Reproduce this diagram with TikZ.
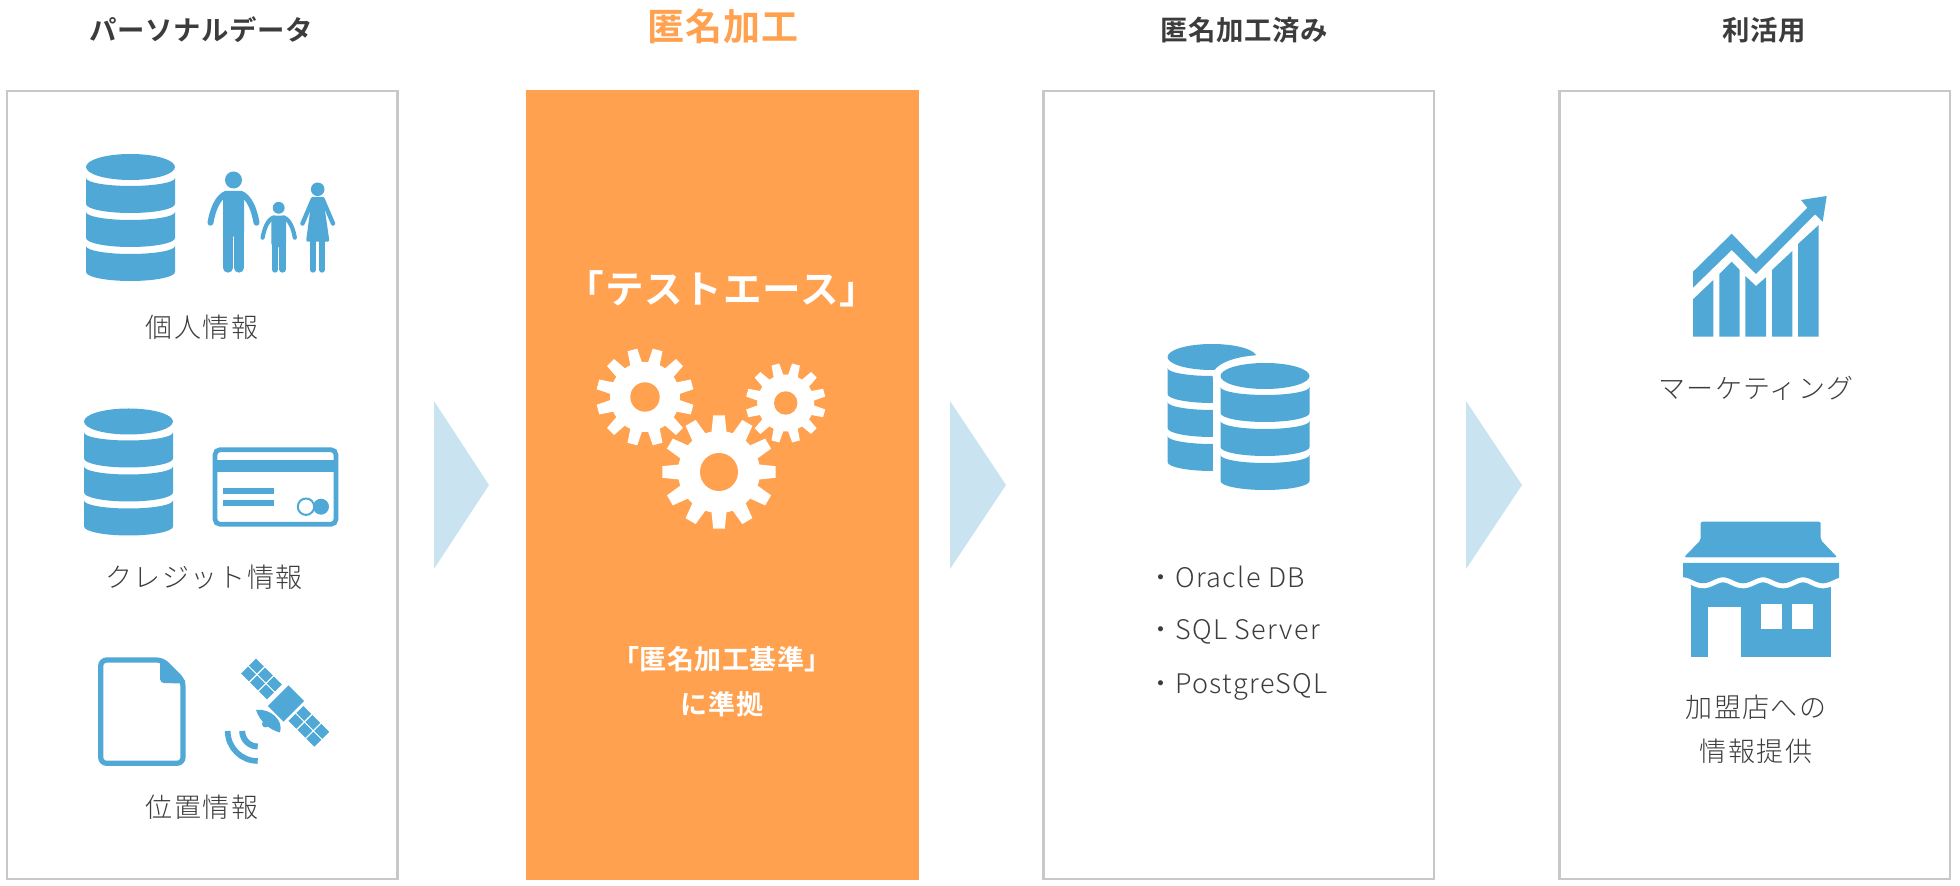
\documentclass[tikz,border=0pt]{standalone}
\usepackage{fontspec}
\usepackage{xcolor}
\usetikzlibrary{positioning}
\newfontfamily\jplight[LetterSpace=5]{Noto Sans CJK JP Light}
\newfontfamily\jpbold[LetterSpace=2]{Noto Sans CJK JP Bold}
\definecolor{iconblue}{HTML}{50A8D6}
\definecolor{stepblue}{HTML}{C9E3F1}
\definecolor{maskorange}{HTML}{FFA14F}
\definecolor{panelgray}{HTML}{C8C8C8}
\definecolor{inkgray}{HTML}{3C3C3C}
\begin{document}
\begin{tikzpicture}[x=0.5pt, y=-0.5pt,
    panel/.style={rectangle, draw=panelgray, line width=1.25pt, minimum width=195.25pt, minimum height=393.75pt, inner sep=0pt},
    title/.style={font=\jpbold\fontsize{13.7}{20}\selectfont, text=inkgray},
    label/.style={font=\jplight\fontsize{13.5}{22}\selectfont, text=inkgray, align=center},
    dblabel/.style={font=\jplight\fontsize{13.5}{20}\selectfont, text=inkgray, anchor=west},
    icon/.style={fill=iconblue},
    pics/dbstack/.style={code={
        \fill[icon] (0,0) circle[x radius=44.5, y radius=13];
        \foreach \layer in {0,34,68} {
            \fill[icon] (-44.5,11+\layer) arc[start angle=180, end angle=0, x radius=44.5, y radius=8]
                -- (44.5,37+\layer) arc[start angle=0, end angle=180, x radius=44.5, y radius=9] -- cycle;
        }
    }},
    pics/manfig/.style={code={
        \fill[icon] (0,-92.7) circle[radius=8.5];
        \fill[icon, rounded corners=2pt] (-10.5,-81.7) rectangle (10.5,-36);
        \draw[iconblue, line width=#1*4.75pt, line cap=round] (-5.5,-40) -- (-5.5,-4.75) (5.5,-40) -- (5.5,-4.75);
        \draw[iconblue, line width=#1*3pt, line cap=round] (-7,-79) .. controls (-16,-76) and (-21,-62) .. (-23,-50)
            (7,-79) .. controls (16,-76) and (21,-62) .. (23,-50);
    }},
    pics/gearwheel/.style args={#1/#2/#3/#4/#5/#6}{code={
        \fill[white] (0,0) circle[radius=#2];
        \foreach \ang in {0,30,...,330} {
            \fill[white, rotate=\ang+#6] (-#4,-#2+1) -- (-#5,-#1) -- (#5,-#1) -- (#4,-#2+1) -- cycle;
        }
        \fill[maskorange] (0,0) circle[radius=#3];
    }}]
        \useasboundingbox (0,0) rectangle (1960,886);
        \node (personal) [panel] at (202,485) {};
        \node (masking) [panel, right=63.85pt of personal, fill=maskorange, draw=maskorange] {};
        \node (masked) [panel, right=61.5pt of masking] {};
        \node (usage) [panel, right=61.6pt of masked] {};
        \node (personaltitle) [title] at (201,30) {パーソナルデータ};
        \node (maskingtitle) [title, font=\jpbold\fontsize{18.5}{24}\selectfont, text=maskorange] at (723,26) {匿名加工};
        \node (maskedtitle) [title] at (1244,30) {匿名加工済み};
        \node (usagetitle) [title] at (1764,30) {利活用};
        \fill[stepblue] (434,401) -- (489,485) -- (434,569) -- cycle;
        \fill[stepblue] (950,401) -- (1006,485) -- (950,569) -- cycle;
        \fill[stepblue] (1466,401) -- (1522,485) -- (1466,569) -- cycle;
        % personal data
        \pic at (130.5,167) {dbstack};
        \pic at (233.5,272.7) {manfig={1}};
        \pic[scale=0.7] at (278.7,272.7) {manfig={0.7}};
        \fill[icon] (317.7,189.3) circle[radius=6.8];
        \fill[icon, rounded corners=1pt] (312,197) -- (323,197) -- (329.5,241.7) -- (306,241.7) -- cycle;
        \draw[iconblue, line width=2.8pt, line cap=round] (313,272.7-2.8) -- (313,238) (322,272.7-2.8) -- (322,238);
        \draw[iconblue, line width=2.2pt, line cap=round] (313,199) -- (302.5,223.5) (322.5,199) -- (333,223.5);
        \node (personlabel) [label] at (202,327) {個人情報};
        \pic at (128.5,421.5) {dbstack};
        \draw[iconblue, line width=2.35pt, rounded corners=2.5pt] (215,449.7) rectangle (336,524.3);
        \fill[icon] (215,460) rectangle (336,472.3);
        \fill[icon] (223,488.3) rectangle (274.3,494.3);
        \fill[icon] (223,500) rectangle (274.3,506);
        \fill[icon] (321,506.7) circle[radius=8];
        \draw[iconblue, fill=white, line width=1pt] (306,506.7) circle[radius=8.2];
        \node (creditlabel) [label] at (204,577) {クレジット情報};
        \draw[iconblue, line width=2.6pt, rounded corners=3pt] (100.7,660) -- (162.5,660) -- (183,680.5) -- (183,763.3) -- (100.7,763.3) -- cycle;
        \fill[icon, rounded corners=2pt] (160,659) -- (164,659) -- (185,680) -- (185,683.5) -- (160,683) -- cycle;
        \begin{scope}[shift={(286,703.5)}, rotate=-45]
            \fill[icon] (-11,-14.5) rectangle (11,14.5);
            \foreach \cell in {-53,-40.3,-27.6,14,26.7,39.4} {
                \fill[icon] (\cell,-10.5) rectangle (\cell+11.2,-0.7);
                \fill[icon] (\cell,0.7) rectangle (\cell+11.2,10.5);
            }
        \end{scope}
        \fill[icon] (256,710) .. controls (270,708) and (284,720) .. (280,732.5) .. controls (270,730) and (260,722) .. cycle;
        \fill[icon] (265.5,724) circle[radius=3.5];
        \draw[iconblue, line width=2.8pt] (227.7,731) arc[start angle=180, end angle=90, radius=30];
        \draw[iconblue, line width=3pt] (242.2,731) arc[start angle=180, end angle=90, radius=15.5];
        \node (placelabel) [label] at (202,807) {位置情報};
        % masking
        \node (enginelabel) [font=\jpbold\fontsize{19.3}{22}\selectfont, text=white] at (722,289) {「テストエース」};
        \pic at (645,397) {gearwheel={48.7/35/14.7/6/5/15}};
        \pic at (785.7,403) {gearwheel={39.8/28.5/11.7/5/4/15}};
        \pic at (719,472) {gearwheel={56.7/41/19/7.5/5.8/0}};
        \node (rulelabel) [font=\jpbold\fontsize{13.5}{22.5}\selectfont, text=white, align=center] at (722,682) {「匿名加工基準」\\に準拠};
        % masked
        \pic at (1212,357) {dbstack};
        \fill[white] (1265,376) circle[x radius=52.5, y radius=21];
        \fill[white] (1213,376) rectangle (1265,500);
        \pic at (1265,376) {dbstack};
        \node (oraclelabel) [dblabel] at (1140,576.5) {・Oracle DB};
        \node (sqllabel) [dblabel] at (1140,631.5) {・SQL Server};
        \node (postgreslabel) [dblabel] at (1140,686.5) {・PostgreSQL};
        % usage
        \fill[icon] (1693,299.3) -- (1713.3,280) -- (1713.3,336.7) -- (1693,336.7) -- cycle;
        \fill[icon] (1719.3,274) -- (1731.7,261.7) -- (1739.7,270) -- (1739.7,336.7) -- (1719.3,336.7) -- cycle;
        \fill[icon] (1745.3,276) -- (1756,286) -- (1766,277.3) -- (1766,336.7) -- (1745.3,336.7) -- cycle;
        \fill[icon] (1772,270) -- (1792.3,251) -- (1792.3,336.7) -- (1772,336.7) -- cycle;
        \fill[icon] (1798,244) -- (1818.7,225) -- (1818.7,336.7) -- (1798,336.7) -- cycle;
        \fill[icon] (1693,271.7) -- (1731.7,233.7) -- (1756,259) -- (1807.3,207.7) -- (1801,200) -- (1826.7,196) -- (1822.7,221.7) -- (1815,214.3) -- (1756,274) -- (1731.7,250) -- (1693,287.7) -- cycle;
        \node (marketlabel) [label] at (1756,388) {マーケティング};
        \fill[icon, rounded corners=1pt] (1700.7,521.7) -- (1820.7,521.7) -- (1820.7,540) -- (1837.3,557.3) -- (1684,557.3) -- (1700.7,540) -- cycle;
        \fill[icon] (1691,570) rectangle (1830.7,657.3);
        \fill[white] (1708,607) rectangle (1740.7,657.5);
        \fill[white] (1761,604.3) rectangle (1781.7,629.3);
        \fill[white] (1791.7,604.3) rectangle (1812.7,629.3);
        \draw[white, line width=5pt, fill=iconblue] (1683,563) -- (1839,563) -- (1839,577.3)
            -- plot[domain=156:0, samples=60] ({1683+\x},{580.3-3*cos(\x*9)}) -- cycle;
        \fill[icon] (1683,563) -- (1839,563) -- (1839,577.3)
            -- plot[domain=156:0, samples=60] ({1683+\x},{580.3-3*cos(\x*9)}) -- cycle;
        \node (shoplabel) [label] at (1756,729) {加盟店への\\情報提供};
    \end{tikzpicture}
\end{document}
